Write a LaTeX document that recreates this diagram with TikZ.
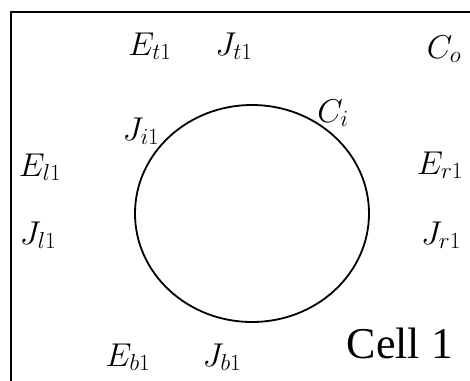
\RequirePackage{fix-cm}
\documentclass[tikz,border=0pt]{standalone}
\usepackage{fontspec}
\newfontfamily\cellfont{Liberation Serif}
\begin{document}
\begin{tikzpicture}[x=1pt,y=-1pt,
  lab/.style={inner sep=0pt,anchor=base,font=\fontsize{33}{38}\selectfont},
  celllab/.style={inner sep=0pt,anchor=base,font=\cellfont\fontsize{44}{50}\selectfont}]
\useasboundingbox (0,0) rectangle (470,380);
\draw[line width=2.2pt] (11,381) -- (11,12) -- (471,12);
\draw[line width=1.8pt] (252,213.5) ellipse [x radius=117pt, y radius=108.5pt];
\node[lab] (Et) at (150,55) {$E_{t1}$};
\node[lab] (Jt) at (234,55) {$J_{t1}$};
\node[lab] (Co) at (444,58) {$C_o$};
\node[lab] (Ci) at (333,122) {$C_i$};
\node[lab] (Ji) at (141,140) {$J_{i1}$};
\node[lab] (El) at (40,176) {$E_{l1}$};
\node[lab] (Jl) at (38,244) {$J_{l1}$};
\node[lab] (Er) at (440,174) {$E_{r1}$};
\node[lab] (Jr) at (441,244) {$J_{r1}$};
\node[lab] (Eb) at (128,366) {$E_{b1}$};
\node[lab] (Jb) at (222,366) {$J_{b1}$};
\node[celllab] (cell) at (400,358) {Cell 1};
\end{tikzpicture}
\end{document}
